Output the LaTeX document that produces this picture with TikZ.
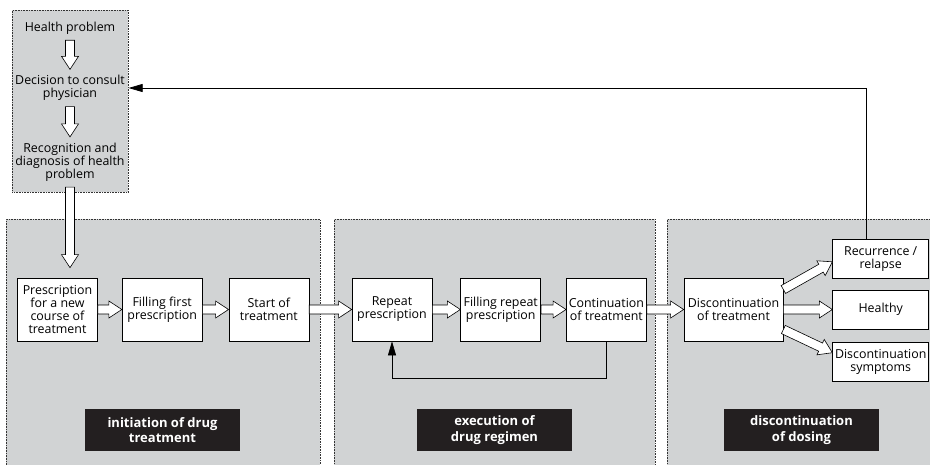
\documentclass[tikz,border=0pt]{standalone}
\usepackage{fontspec}
\setmainfont{Open Sans}
\usepackage{xcolor}
\usepackage{tikz}
\usetikzlibrary{arrows.meta,positioning,calc}

\definecolor{panelgray}{RGB}{209,211,212}
\definecolor{phaseblack}{RGB}{35,31,32}

\begin{document}
\begin{tikzpicture}[
    x=1pt, y=-1pt,
    font=\fontsize{12.4}{12.9}\selectfont,
    panel/.style={rectangle, draw=black!80, densely dotted, fill=panelgray, line width=0.6pt, inner sep=0pt},
    stage/.style={rectangle, draw, fill=white, line width=0.7pt, minimum width=80pt, minimum height=63pt, align=center, inner sep=1pt},
    outcome/.style={stage, minimum width=96pt, minimum height=39pt},
    steptext/.style={align=center, inner sep=0pt, outer sep=6pt},
    phase/.style={rectangle, fill=phaseblack, text=white, font=\fontsize{13}{15.5}\selectfont\bfseries, minimum width=155pt, minimum height=42pt, align=center},
    fat/.style={draw, fill=white, line width=0.6pt, to path={
        let \p1=(\tikztostart), \p2=(\tikztotarget),
            \n1={atan2(\y2-\y1,\x2-\x1)}, \n2={veclen(\x2-\x1,\y2-\y1)} in
        ([shift={(\p1)},rotate=\n1]0pt,-4.5pt) -- ([shift={(\p1)},rotate=\n1]\n2-13pt,-4.5pt)
        -- ([shift={(\p1)},rotate=\n1]\n2-13pt,-8.5pt) -- ([shift={(\p1)},rotate=\n1]\n2,0pt)
        -- ([shift={(\p1)},rotate=\n1]\n2-13pt,8.5pt) -- ([shift={(\p1)},rotate=\n1]\n2-13pt,4.5pt)
        -- ([shift={(\p1)},rotate=\n1]0pt,4.5pt) -- cycle}},
    line/.style={draw, line width=0.7pt},
    >={Triangle[length=14pt,width=8pt]}
]
\clip (0,0) rectangle (930,464);

% Panels
\node[panel, minimum width=116pt, minimum height=182pt, anchor=north west] (consult) at (12,10) {};
\node[panel, minimum width=314pt, minimum height=260pt, anchor=north west] (initpanel) at (6,219) {};
\node[panel, minimum width=321pt, minimum height=260pt, anchor=north west] (execpanel) at (334,219) {};
\node[panel, minimum width=269pt, minimum height=260pt, anchor=north west] (discpanel) at (667,219) {};

% Consultation
\node[steptext] (health) at (70,28) {Health problem};
\node[steptext] (decide) at (70,88) {Decision to consult\\physician};
\node[steptext] (diagnose) at (70,162) {Recognition and\\diagnosis of health\\problem};

% Stages
\node[stage] (newpresc) at (57.5,309.5) {Prescription\\for a new\\course of\\treatment};
\node[stage, right=24pt of newpresc] (firstfill) {Filling first\\prescription};
\node[stage, right=26pt of firstfill] (start) {Start of\\treatment};
\node[stage] (repeat) at (392,309.5) {Repeat\\prescription};
\node[stage, right=28pt of repeat] (repeatfill) {Filling repeat\\prescription};
\node[stage, right=25pt of repeatfill] (continue) {Continuation\\of treatment};
\node[stage, minimum width=99pt] (stop) at (733.5,309.5) {Discontinuation\\of treatment};
\node[outcome, right=49pt of stop] (healthy) {Healthy};
\node[outcome, above=11pt of healthy] (relapse) {Recurrence /\\relapse};
\node[outcome, below=13pt of healthy] (symptoms) {Discontinuation\\symptoms};

% Phase labels
\node[phase] (initlabel) at (162.5,430) {initiation of drug\\treatment};
\node[phase] (execlabel) at (494.5,430) {execution of\\drug regimen};
\node[phase] (disclabel) at (801.5,430) {discontinuation\\of dosing};

% Flow
\coordinate (presctop) at ([yshift=10pt]newpresc.north -| diagnose.south);
\path[fat] (health.south) to (decide.north);
\path[fat] (decide.south) to (diagnose.north);
\path[fat] (diagnose.south) to (presctop);
\path[fat] (newpresc.east) to (firstfill.west);
\path[fat] (firstfill.east) to (start.west);
\path[fat] (start.east) to (repeat.west);
\path[fat] (repeat.east) to (repeatfill.west);
\path[fat] (repeatfill.east) to (continue.west);
\path[fat] (continue.east) to (stop.west);
\path[fat] ([yshift=20pt]stop.east) to ([yshift=-3pt]relapse.west);
\path[fat] (stop.east) to (healthy.west);
\path[fat] ([yshift=-20pt]stop.east) to ([yshift=9.5pt]symptoms.west);

% Feedback
\path[line,->] (continue.south) -- ++(0,37) -| (repeat.south);
\path[line,->] ([xshift=-14pt]relapse.north) |- (consult.east |- decide.center);

\end{tikzpicture}
\end{document}
